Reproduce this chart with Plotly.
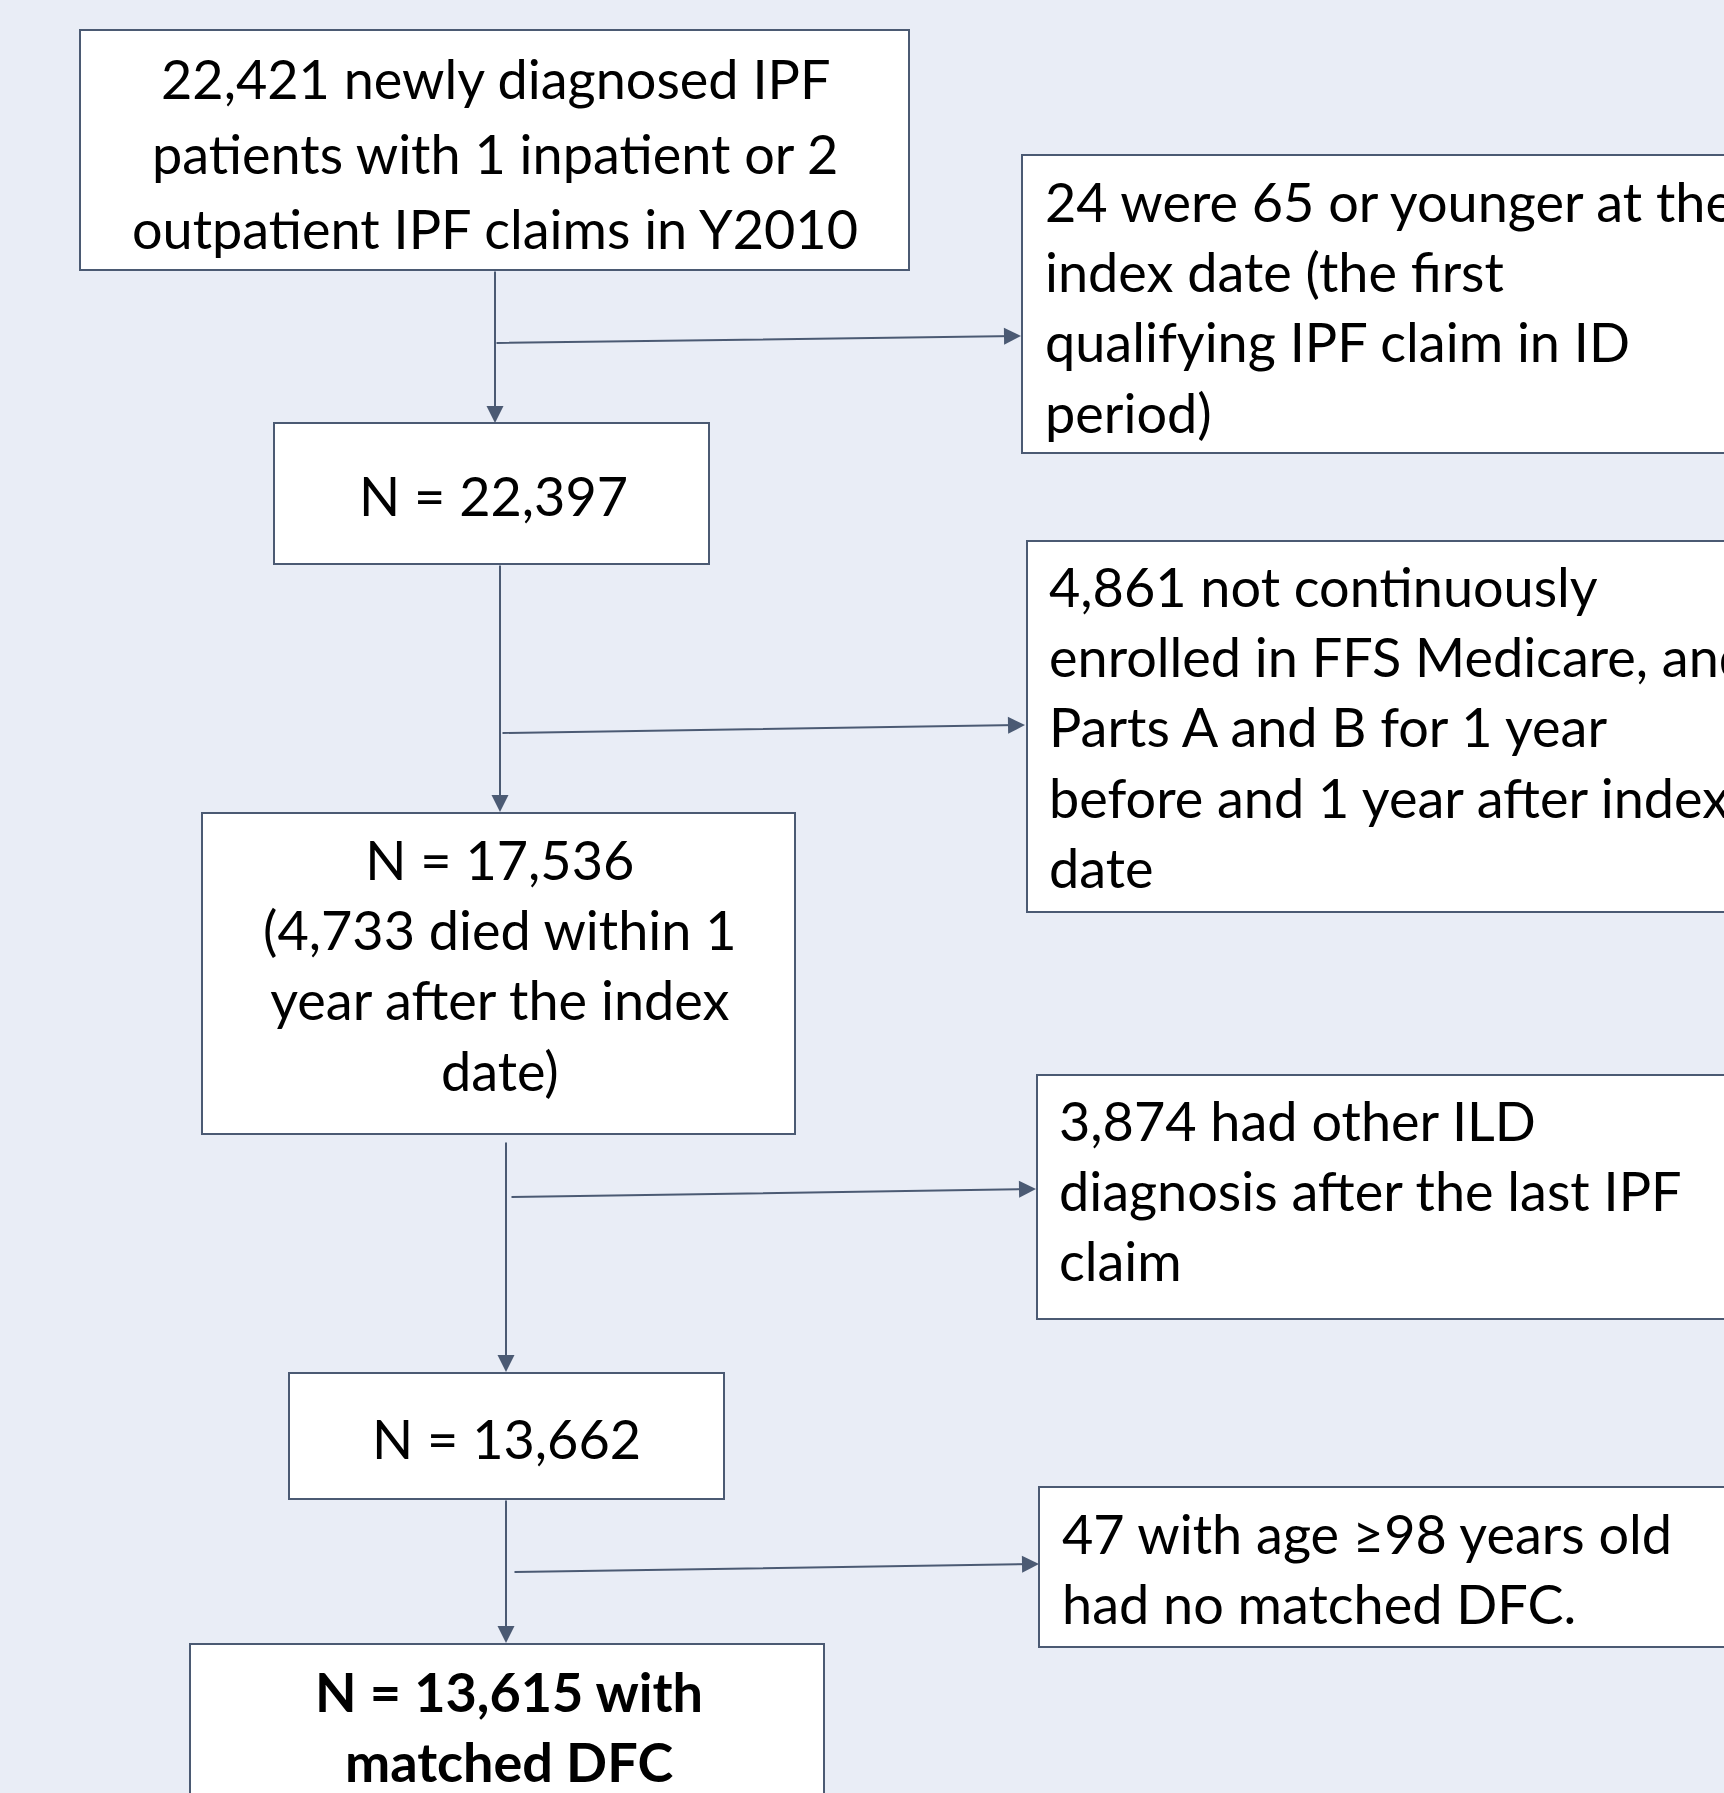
import plotly.graph_objects as go

# ---- data ----
main_counts = [22421, 22397, 17536, 13662, 13615]
died_within_year = 4733
excluded_counts = [24, 4861, 3874, 47]

def fmt(n):
    return f"{n:,}"

first_box_lines = [
    f"{fmt(main_counts[0])} newly diagnosed IPF",
    "patients with 1 inpatient or 2",
    "outpatient IPF claims in Y2010",
]
main_texts = [
    f"N = {fmt(main_counts[1])}",
    f"N = {fmt(main_counts[2])}<br>({fmt(died_within_year)} died within 1<br>year after the index<br>date)",
    f"N = {fmt(main_counts[3])}",
    f"<b>N = {fmt(main_counts[4])} with<br>matched DFC</b>",
]
excl_texts = [
    f"{excluded_counts[0]} were 65 or younger at the<br>index date (the first<br>qualifying IPF claim in ID<br>period)",
    f"{fmt(excluded_counts[1])} not continuously<br>enrolled in FFS Medicare, and<br>Parts A and B for 1 year<br>before and 1 year after index<br>date",
    f"{fmt(excluded_counts[2])} had other ILD<br>diagnosis after the last IPF<br>claim",
    f"{excluded_counts[3]} with age \u226598 years old<br>had no matched DFC.",
]

# ---- layout geometry (pixel-like units) ----
W, H = 1724, 1793
LINE = "#4B5A73"
BG = "#E9EDF6"
FONT = "Lato"
FS = 54

main_boxes = [(80, 30, 909, 270), (274, 423, 709, 564), (202, 813, 795, 1134),
              (289, 1373, 724, 1499), (190, 1644, 824, 1860)]
first_box_pos = [(495, 78), (495, 153), (495, 228)]
main_text_pos = [(493, 495), (500, 965), (506, 1438), (509, 1726)]
excl_boxes = [(1022, 155, 1800, 453), (1027, 541, 1800, 912),
              (1037, 1075, 1800, 1319), (1039, 1487, 1800, 1647)]
excl_text_pos = [(1043, 307), (1047, 727), (1057, 1190), (1060, 1568)]
vert_arrows = [((495, 270), (495, 423)), ((500, 564), (500, 812)),
               ((506, 1141), (506, 1372)), ((506, 1499), (506, 1643))]
side_arrows = [((495, 343), (1021, 336)), ((501, 733), (1025, 725)),
               ((510, 1197), (1036, 1189)), ((513, 1572), (1039, 1564))]

fig = go.Figure()
fig.add_trace(go.Scatter(x=[0, W], y=[0, H], mode="markers",
                         marker=dict(opacity=0), hoverinfo="skip", showlegend=False))

for (x0, y0, x1, y1) in main_boxes + excl_boxes:
    fig.add_shape(type="rect", xref="x", yref="y", x0=x0, y0=y0, x1=x1, y1=y1,
                  line=dict(color=LINE, width=2), fillcolor="white", layer="below")

annotations = []
for txt, (x, y) in zip(first_box_lines, first_box_pos):
    annotations.append(dict(x=x, y=y, xref="x", yref="y", text=txt, showarrow=False,
                            xanchor="center", yanchor="middle", align="center",
                            font=dict(family=FONT, size=FS, color="black")))
for txt, (x, y) in zip(main_texts, main_text_pos):
    annotations.append(dict(x=x, y=y, xref="x", yref="y", text=txt, showarrow=False,
                            xanchor="center", yanchor="middle", align="center",
                            font=dict(family=FONT, size=FS, color="black")))
for txt, (x, y) in zip(excl_texts, excl_text_pos):
    annotations.append(dict(x=x, y=y, xref="x", yref="y", text=txt, showarrow=False,
                            xanchor="left", yanchor="middle", align="left",
                            font=dict(family=FONT, size=FS, color="black")))
for (t, h) in vert_arrows + side_arrows:
    annotations.append(dict(x=h[0], y=h[1], ax=t[0], ay=t[1], xref="x", yref="y",
                            axref="x", ayref="y", text="", showarrow=True,
                            arrowhead=2, arrowsize=1.7, arrowwidth=2,
                            arrowcolor=LINE, standoff=0))

fig.update_layout(
    width=W, height=H, margin=dict(l=0, r=0, t=0, b=0),
    paper_bgcolor=BG, plot_bgcolor=BG,
    xaxis=dict(range=[0, W], visible=False, fixedrange=True),
    yaxis=dict(range=[H, 0], visible=False, fixedrange=True),
    annotations=annotations, showlegend=False,
)

fig.write_html("out.html", config={"displayModeBar": False},
               post_script="document.body.style.margin='0';document.body.style.overflow='hidden';")
